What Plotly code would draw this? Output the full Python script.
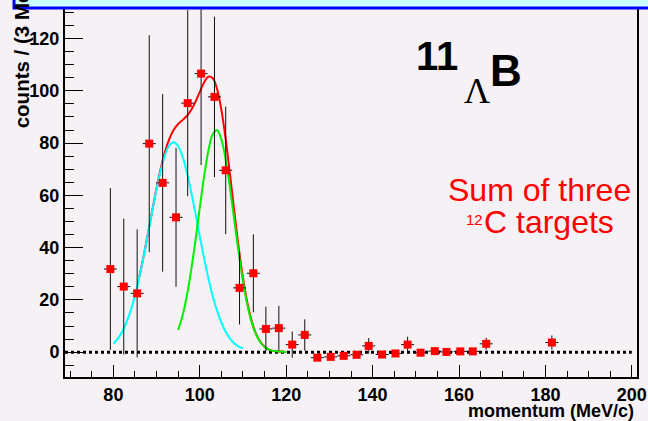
import plotly.graph_objects as go

# ---- data ----
x_pts = [79.3, 82.4, 85.5, 88.3, 91.4, 94.5, 97.2, 100.3, 103.4, 106.0, 109.2, 112.4, 115.3, 118.3,
         121.4, 124.3, 127.2, 130.3, 133.3, 136.3, 139.1, 142.2, 145.3, 148.1, 151.1, 154.4, 157.1,
         160.3, 163.2, 166.3, 181.5]
y_pts = [31.8, 25.1, 22.5, 79.8, 64.8, 51.6, 95.3, 106.6, 97.7, 69.6, 24.6, 30.2, 8.9, 9.2,
         2.9, 6.6, -2.1, -1.8, -1.4, -1.0, 2.4, -0.9, -0.5, 2.9, -0.2, 0.4, 0.1,
         0.3, 0.3, 3.2, 3.7]
y_err = [31, 26, 24.5, 41.5, 34, 26.6, 35.6, 35, 30.7, 24.4, 14, 14.9, 8.5, 8.5,
         5, 6, 1, 1, 1, 1, 3, 1, 1, 3, 0.5, 0.5, 0.5, 0.5, 0.5, 2.3, 2.7]
x_halfbin = 1.5

cyan_x = list(range(80, 111))
cyan_y = [3.3, 5.1, 7.7, 11.3, 15.9, 21.7, 28.7, 36.5, 45.2, 54.0, 62.5, 69.9, 75.6, 79.2, 80.3,
          78.8, 74.9, 68.9, 61.4, 53.0, 44.3, 35.9, 28.2, 21.4, 15.8, 11.3, 7.8, 5.2, 3.4, 2.1, 1.5]

green_x = list(range(95, 121))
green_y = [8.5, 13.9, 21.5, 31.3, 42.8, 55.3, 67.3, 77.2, 83.4, 84.9, 81.4, 73.6, 62.7, 50.3,
           38.0, 27.1, 18.2, 11.5, 6.8, 3.8, 2.0, 1.0, 0.5, 0.3, 0.2, 0.1]

red_x = list(range(86, 121))
red_y = [28.8, 36.7, 45.4, 54.2, 62.8, 70.6, 77.0, 81.8, 85.2, 87.3, 88.8, 90.4, 92.7, 95.8,
         99.6, 103.2, 105.4, 104.8, 100.7, 92.7, 81.4, 67.9, 53.7, 40.1, 28.4, 19.0, 12.0, 7.1,
         4.0, 2.1, 1.0, 0.5, 0.3, 0.2, 0.1]

x_range = [68.8, 201.2]
y_range = [-9.5, 134.0]

BG = "#F5F1F5"
W, H = 648, 421
ML, MR, MT, MB = 65, 11, 0, 44
PW, PH = W - ML - MR, H - MT - MB


def px(xp):
    return (xp - ML) / PW


def py(yp):
    return (H - MB - yp) / PH


fig = go.Figure()

fig.add_trace(go.Scatter(x=red_x, y=red_y, mode="lines", line=dict(color="#FF0000", width=2, shape="spline"),
                         hoverinfo="skip", showlegend=False))
fig.add_trace(go.Scatter(x=cyan_x, y=cyan_y, mode="lines", line=dict(color="#00FFFF", width=2, shape="spline"),
                         hoverinfo="skip", showlegend=False))
fig.add_trace(go.Scatter(x=green_x, y=green_y, mode="lines", line=dict(color="#00F000", width=2, shape="spline"),
                         hoverinfo="skip", showlegend=False))
fig.add_trace(go.Scatter(
    x=x_pts, y=y_pts, mode="markers",
    marker=dict(symbol="square", size=8, color="#FF0000", line=dict(width=0)),
    error_y=dict(type="data", array=y_err, visible=True, color="#111111", thickness=1, width=0),
    error_x=dict(type="constant", value=x_halfbin, visible=True, color="#111111", thickness=1, width=0),
    showlegend=False))

fig.add_shape(type="line", xref="x", yref="y", x0=x_range[0], x1=200, y0=0, y1=0,
              line=dict(color="black", width=3, dash="dot"), layer="below")

# blue box at the top (partially visible)
fig.add_shape(type="rect", xref="paper", yref="paper",
              x0=px(14), x1=px(652), y0=py(6), y1=py(-20),
              fillcolor="#CCFFFF", line=dict(color="#0000FF", width=3), layer="above")

fig.update_xaxes(range=x_range, showgrid=False, zeroline=False,
                 showline=True, linecolor="black", linewidth=2, mirror=True,
                 ticks="inside", ticklen=12, tickwidth=1, tickcolor="black", dtick=20, tick0=0,
                 minor=dict(ticks="inside", ticklen=6, dtick=5, tickcolor="black", tickwidth=1),
                 tickfont=dict(family="Liberation Sans", size=18, color="black", weight="bold"))
fig.update_yaxes(range=y_range, showgrid=False, zeroline=False,
                 showline=True, linecolor="black", linewidth=2, mirror=True,
                 ticks="inside", ticklen=18, tickwidth=1, tickcolor="black", dtick=20, tick0=0,
                 minor=dict(ticks="inside", ticklen=9, dtick=5, tickcolor="black", tickwidth=1),
                 tickfont=dict(family="Liberation Sans", size=18, color="black", weight="bold"))

ann = []
ann.append(dict(text="<b>momentum (MeV/c)</b>", xref="paper", yref="paper", x=px(636), y=py(411.5),
                xanchor="right", yanchor="middle", showarrow=False,
                font=dict(family="Liberation Sans", size=18, color="black")))
ann.append(dict(text="<b>counts / (3 MeV/c)</b>", xref="paper", yref="paper", x=px(21), y=py(129),
                xanchor="center", yanchor="bottom", textangle=-90, showarrow=False,
                font=dict(family="Liberation Sans", size=20.5, color="black")))
ann.append(dict(text="<b>11</b>", xref="paper", yref="paper", x=px(437), y=py(54),
                xanchor="center", yanchor="middle", showarrow=False,
                font=dict(family="Liberation Sans", size=40, color="black")))
ann.append(dict(text="Λ", xref="paper", yref="paper", x=px(477), y=py(89),
                xanchor="center", yanchor="middle", showarrow=False,
                font=dict(family="Liberation Serif", size=36, color="black")))
ann.append(dict(text="<b>B</b>", xref="paper", yref="paper", x=px(506), y=py(69),
                xanchor="center", yanchor="middle", showarrow=False,
                font=dict(family="Liberation Sans", size=44, color="black")))
ann.append(dict(text="Sum of three", xref="paper", yref="paper", x=px(539), y=py(189),
                xanchor="center", yanchor="middle", showarrow=False,
                font=dict(family="Liberation Sans", size=32, color="#FF0000")))
ann.append(dict(text="12", xref="paper", yref="paper", x=px(474), y=py(219),
                xanchor="center", yanchor="middle", showarrow=False,
                font=dict(family="Liberation Sans", size=15, color="#FF0000")))
ann.append(dict(text="C targets", xref="paper", yref="paper", x=px(548.5), y=py(221),
                xanchor="center", yanchor="middle", showarrow=False,
                font=dict(family="Liberation Sans", size=32, color="#FF0000")))

fig.update_layout(width=W, height=H, autosize=False,
                  margin=dict(l=ML, r=MR, t=MT, b=MB, pad=0),
                  paper_bgcolor=BG, plot_bgcolor=BG,
                  annotations=ann, showlegend=False)

fig.write_html("out.html")
